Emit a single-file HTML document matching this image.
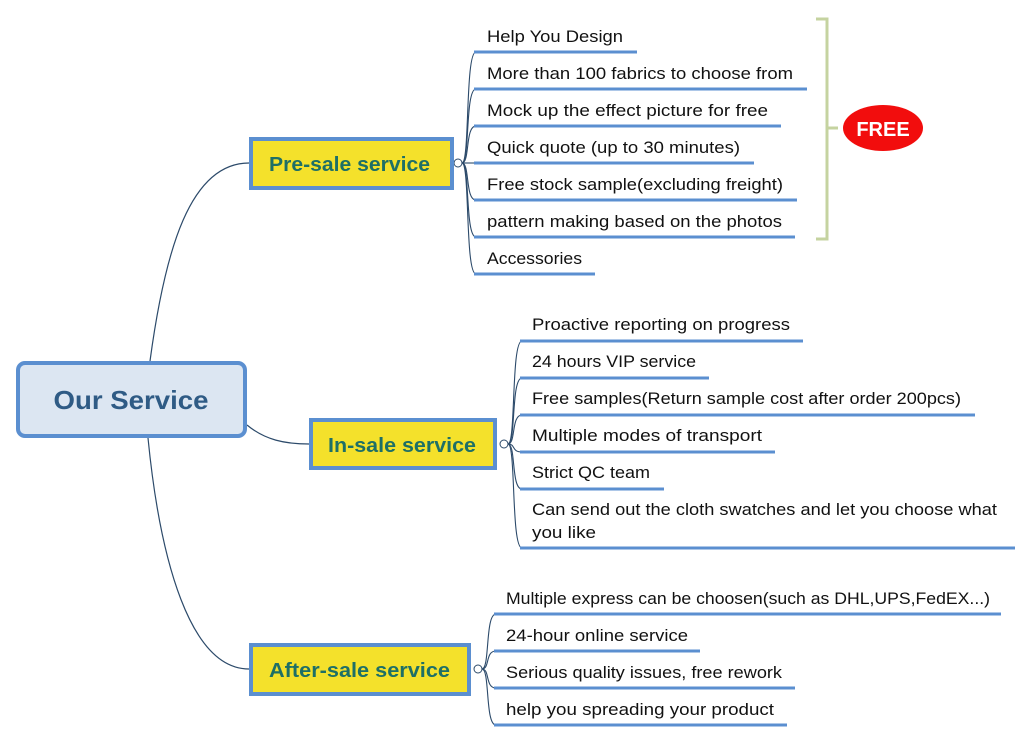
<!DOCTYPE html>
<html><head><meta charset="utf-8"><style>
html,body{margin:0;padding:0;background:#fff;}
svg{display:block;}
.t{font-family:"Liberation Sans",sans-serif;font-size:17px;fill:#111;}
.b{font-family:"Liberation Sans",sans-serif;font-weight:bold;font-size:20px;fill:#1e6f66;}
</style></head><body>
<svg width="1033" height="742" viewBox="0 0 1033 742" xmlns="http://www.w3.org/2000/svg">
<g fill="none" stroke="#2c4a6a" stroke-width="1.2">
<path d="M150 361 C165 250 190 163 249 163"/>
<path d="M247 425 C265 440 285 444 309 444"/>
<path d="M148 438 C160 560 190 669 249 669"/>
</g>
<!-- Pre-sale branches -->
<g fill="none" stroke="#2c4a6a" stroke-width="1.1">
<path d="M462 163 C470 163 465 52 476 52"/>
<path d="M462 163 C470 163 465 89 476 89"/>
<path d="M462 163 C470 163 465 126 476 126"/>
<path d="M462 163 L476 163"/>
<path d="M462 163 C470 163 465 200 476 200"/>
<path d="M462 163 C470 163 465 237 476 237"/>
<path d="M462 163 C470 163 465 274 476 274"/>
<path d="M508 444 C516 444 511 341 522 341"/>
<path d="M508 444 C516 444 511 378 522 378"/>
<path d="M508 444 C516 444 511 415 522 415"/>
<path d="M508 444 C516 444 511 452 522 452"/>
<path d="M508 444 C516 444 511 489 522 489"/>
<path d="M508 444 C516 444 511 548 522 548"/>
<path d="M482 669 C490 669 485 614 496 614"/>
<path d="M482 669 C490 669 485 651 496 651"/>
<path d="M482 669 C490 669 485 688 496 688"/>
<path d="M482 669 C490 669 485 725 496 725"/>
</g>
<g fill="#fff" stroke="#2c4a6a" stroke-width="1">
<circle cx="458" cy="163" r="4"/><circle cx="504" cy="444" r="4"/><circle cx="478" cy="669" r="4"/>
</g>
<g stroke="#5b8fd0" stroke-width="3">
<line x1="474" y1="52" x2="637" y2="52"/>
<line x1="474" y1="89" x2="807" y2="89"/>
<line x1="474" y1="126" x2="781" y2="126"/>
<line x1="474" y1="163" x2="754" y2="163"/>
<line x1="474" y1="200" x2="797" y2="200"/>
<line x1="474" y1="237" x2="795" y2="237"/>
<line x1="474" y1="274" x2="595" y2="274"/>
<line x1="520" y1="341" x2="803" y2="341"/>
<line x1="520" y1="378" x2="709" y2="378"/>
<line x1="520" y1="415" x2="975" y2="415"/>
<line x1="520" y1="452" x2="775" y2="452"/>
<line x1="520" y1="489" x2="664" y2="489"/>
<line x1="520" y1="548" x2="1015" y2="548"/>
<line x1="494" y1="614" x2="1001" y2="614"/>
<line x1="494" y1="651" x2="700" y2="651"/>
<line x1="494" y1="688" x2="795" y2="688"/>
<line x1="494" y1="725" x2="787" y2="725"/>
</g>
<g class="t">
<text x="487" y="42" textLength="136" lengthAdjust="spacingAndGlyphs" class="t">Help You Design</text>
<text x="487" y="79" textLength="306" lengthAdjust="spacingAndGlyphs" class="t">More than 100 fabrics to choose from</text>
<text x="487" y="116" textLength="281" lengthAdjust="spacingAndGlyphs" class="t">Mock up the effect picture for free</text>
<text x="487" y="153" textLength="253" lengthAdjust="spacingAndGlyphs" class="t">Quick quote (up to 30 minutes)</text>
<text x="487" y="190" textLength="296" lengthAdjust="spacingAndGlyphs" class="t">Free stock sample(excluding freight)</text>
<text x="487" y="227" textLength="295" lengthAdjust="spacingAndGlyphs" class="t">pattern making based on the photos</text>
<text x="487" y="264" textLength="95" lengthAdjust="spacingAndGlyphs" class="t">Accessories</text>
<text x="532" y="330" textLength="258" lengthAdjust="spacingAndGlyphs" class="t">Proactive reporting on progress</text>
<text x="532" y="367" textLength="164" lengthAdjust="spacingAndGlyphs" class="t">24 hours VIP service</text>
<text x="532" y="404" textLength="429" lengthAdjust="spacingAndGlyphs" class="t">Free samples(Return sample cost after order 200pcs)</text>
<text x="532" y="441" textLength="230" lengthAdjust="spacingAndGlyphs" class="t">Multiple modes of transport</text>
<text x="532" y="478" textLength="118" lengthAdjust="spacingAndGlyphs" class="t">Strict QC team</text>
<text x="532" y="515" textLength="465" lengthAdjust="spacingAndGlyphs" class="t">Can send out the cloth swatches and let you choose what</text>
<text x="532" y="538" textLength="64" lengthAdjust="spacingAndGlyphs" class="t">you like</text>
<text x="506" y="604" textLength="484" lengthAdjust="spacingAndGlyphs" class="t">Multiple express can be choosen(such as DHL,UPS,FedEX...)</text>
<text x="506" y="641" textLength="182" lengthAdjust="spacingAndGlyphs" class="t">24-hour online service</text>
<text x="506" y="678" textLength="276" lengthAdjust="spacingAndGlyphs" class="t">Serious quality issues, free rework</text>
<text x="506" y="715" textLength="268" lengthAdjust="spacingAndGlyphs" class="t">help you spreading your product</text>
</g>
<!-- central node -->
<rect x="18" y="363" width="227" height="73" rx="7" fill="#dce6f2" stroke="#5b8fd0" stroke-width="4"/>
<text x="131" y="409" text-anchor="middle" font-family="Liberation Sans,sans-serif" font-weight="bold" font-size="26" fill="#2f5b85" textLength="155" lengthAdjust="spacingAndGlyphs">Our Service</text>
<!-- main branches -->
<rect x="251" y="139" width="201" height="49" fill="#f4e12b" stroke="#5b8fd0" stroke-width="4"/>
<text x="269" y="171" class="b" textLength="161" lengthAdjust="spacingAndGlyphs">Pre-sale service</text>
<rect x="311" y="420" width="184" height="48" fill="#f4e12b" stroke="#5b8fd0" stroke-width="4"/>
<text x="328" y="452" class="b" textLength="148" lengthAdjust="spacingAndGlyphs">In-sale service</text>
<rect x="251" y="645" width="218" height="49" fill="#f4e12b" stroke="#5b8fd0" stroke-width="4"/>
<text x="269" y="677" class="b" textLength="181" lengthAdjust="spacingAndGlyphs">After-sale service</text>
<!-- bracket -->
<path d="M816 19 L827 19 L827 239 L816 239 M827 128 L838 128" fill="none" stroke="#c5d3a0" stroke-width="3"/>
<ellipse cx="883" cy="128" rx="40" ry="23" fill="#f20d0d"/>
<text x="883" y="136" text-anchor="middle" font-family="Liberation Sans,sans-serif" font-weight="bold" font-size="20" fill="#fff">FREE</text>
</svg>
</body></html>
